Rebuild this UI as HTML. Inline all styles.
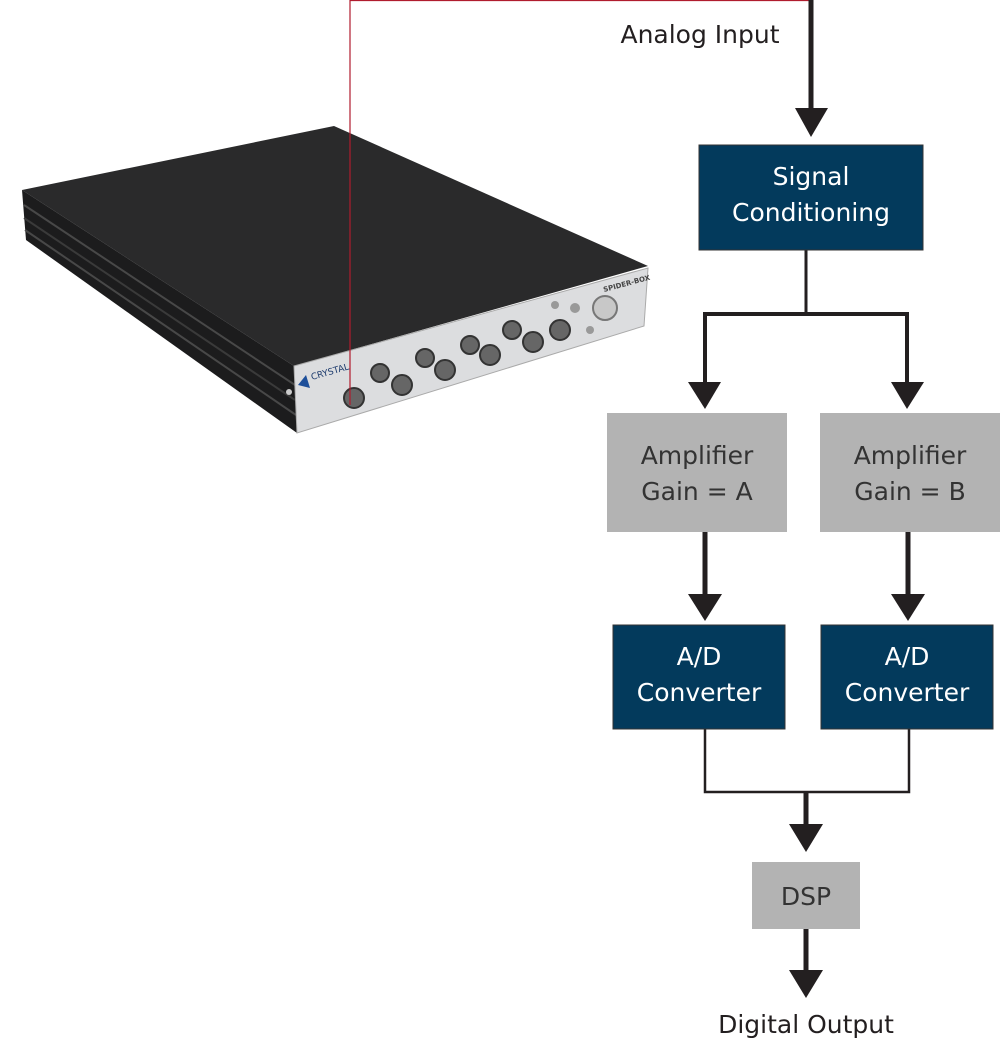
<!DOCTYPE html>
<html><head><meta charset="utf-8"><style>
body{margin:0;background:#fff;}
svg{display:block}
text{font-family:"DejaVu Sans","Liberation Sans",sans-serif;}
</style></head><body>
<svg width="1000" height="1041" viewBox="0 0 1000 1041" xmlns="http://www.w3.org/2000/svg">
<!-- device -->
<polygon points="22,190 334,126 648,266 294,366" fill="#2a2a2b"/>
<polygon points="22,190 294,366 297,433 26,240" fill="#1c1c1d"/>
<line x1="24" y1="205" x2="295" y2="385" stroke="#484848" stroke-width="2"/>
<line x1="24" y1="218" x2="295" y2="400" stroke="#3a3a3a" stroke-width="2"/>
<line x1="25" y1="230" x2="296" y2="415" stroke="#484848" stroke-width="2"/>
<polygon points="294,366 648,268 644,326 297,433" fill="#dcdddf" stroke="#aaa"/>
<g fill="#666" stroke="#333" stroke-width="2">
<circle cx="354" cy="398" r="10"/>
<circle cx="380" cy="373" r="9"/><circle cx="402" cy="385" r="10"/>
<circle cx="425" cy="358" r="9"/><circle cx="445" cy="370" r="10"/>
<circle cx="470" cy="345" r="9"/><circle cx="490" cy="355" r="10"/>
<circle cx="512" cy="330" r="9"/><circle cx="533" cy="342" r="10"/>
<circle cx="560" cy="330" r="10"/>
</g>
<circle cx="605" cy="308" r="12" fill="#c8c8c8" stroke="#777" stroke-width="2"/>
<circle cx="575" cy="308" r="5" fill="#999"/><circle cx="555" cy="305" r="4" fill="#999"/>
<circle cx="590" cy="330" r="4" fill="#999"/>
<polygon points="298,385 306,375 310,388" fill="#1e4f9a"/>
<text x="312" y="380" font-size="9" fill="#1e3c6e" transform="rotate(-16 312 380)">CRYSTAL</text>
<text x="604" y="292" font-size="7" font-weight="bold" fill="#444" transform="rotate(-15 604 292)">SPIDER-BOX</text>
<circle cx="289" cy="392" r="3" fill="#ccc"/>
<!-- red line -->
<polyline points="350,405 350,0.5 811,0.5" fill="none" stroke="#b01c2e" stroke-width="1.2"/>
<!-- flow -->
<g stroke="#231f20" fill="none">
<line x1="811" y1="0" x2="811" y2="110" stroke-width="5"/>
<polyline points="806,250 806,314" stroke-width="3"/>
<polyline points="705,385 705,314 907,314 907,385" stroke-width="4"/>
<line x1="705" y1="532" x2="705" y2="598" stroke-width="5"/>
<line x1="908" y1="532" x2="908" y2="598" stroke-width="5"/>
<polyline points="705,729 705,792 909,792 909,729" stroke-width="2.5"/>
<line x1="806" y1="792" x2="806" y2="826" stroke-width="5"/>
<line x1="806" y1="929" x2="806" y2="972" stroke-width="5"/>
</g>
<g fill="#231f20">
<polygon points="795,108 828,108 811,137"/>
<polygon points="688,382 721,382 705,409"/>
<polygon points="891,382 924,382 907,409"/>
<polygon points="688,594 722,594 705,621"/>
<polygon points="891,594 925,594 908,621"/>
<polygon points="789,824 823,824 806,852"/>
<polygon points="789,970 823,970 806,998"/>
</g>
<rect x="699" y="145" width="224" height="105" fill="#033a5c" stroke="#333"/>
<rect x="607" y="413" width="180" height="119" fill="#b3b3b3"/>
<rect x="820" y="413" width="180" height="119" fill="#b3b3b3"/>
<rect x="613" y="625" width="172" height="104" fill="#033a5c" stroke="#333"/>
<rect x="821" y="625" width="172" height="104" fill="#033a5c" stroke="#333"/>
<rect x="752" y="862" width="108" height="67" fill="#b3b3b3"/>
<g font-size="25" text-anchor="middle">
<text x="700" y="43" fill="#231f20">Analog Input</text>
<text x="811" y="185" fill="#fff">Signal</text>
<text x="811" y="221" fill="#fff">Conditioning</text>
<text x="697" y="464" fill="#333">Amplifier</text>
<text x="697" y="500" fill="#333">Gain = A</text>
<text x="910" y="464" fill="#333">Amplifier</text>
<text x="910" y="500" fill="#333">Gain = B</text>
<text x="699" y="665" fill="#fff">A/D</text>
<text x="699" y="701" fill="#fff">Converter</text>
<text x="907" y="665" fill="#fff">A/D</text>
<text x="907" y="701" fill="#fff">Converter</text>
<text x="806" y="905" fill="#333">DSP</text>
<text x="806" y="1033" fill="#231f20">Digital Output</text>
</g>
</svg>
</body></html>
